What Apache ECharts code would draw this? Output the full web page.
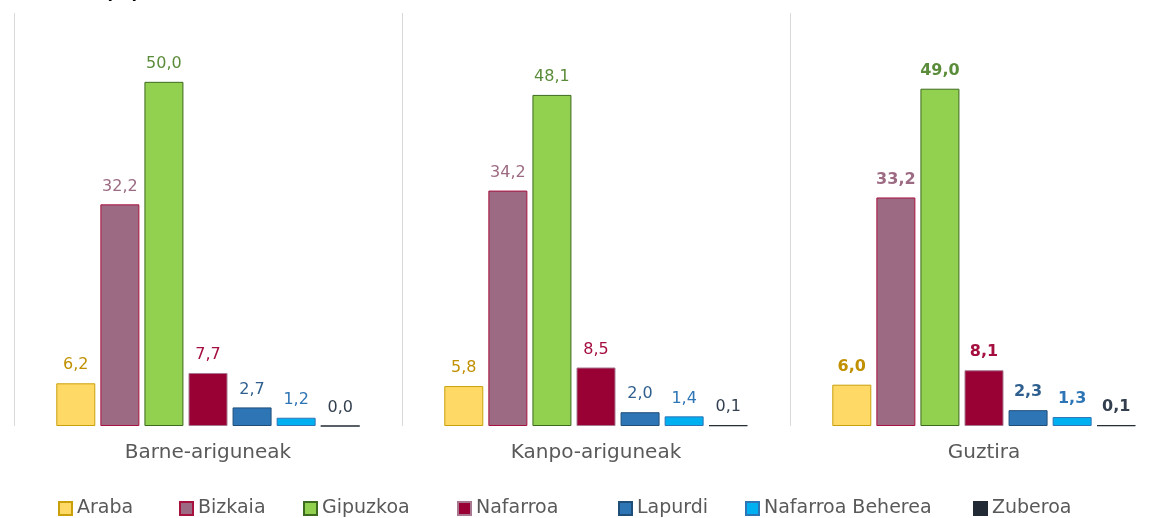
<!DOCTYPE html>
<html>
<head>
<meta charset="utf-8">
<script src="https://cdn.jsdelivr.net/npm/echarts@6/dist/echarts.min.js"></script>
<style>
  html, body { margin: 0; padding: 0; background: #fff; }
  #chart { width: 1164px; height: 518px; }
</style>
</head>
<body>
<div id="chart"></div>
<script>
var categories = ['Barne-ariguneak', 'Kanpo-ariguneak', 'Guztira'];
var araba = [6.2, 5.8, 6.0];
var bizkaia = [32.2, 34.2, 33.2];
var gipuzkoa = [50.0, 48.1, 49.0];
var nafarroa = [7.7, 8.5, 8.1];
var lapurdi = [2.7, 2.0, 2.3];
var nafarroaBeherea = [1.2, 1.4, 1.3];
var zuberoa = [0.0, 0.1, 0.1];

var fontFamily = '"DejaVu Sans", Verdana, sans-serif';

// name, values, fill, border, label colour, legend x
var regions = [
  ['Araba', araba, '#ffd966', '#c9a00a', '#c09000', 58],
  ['Bizkaia', bizkaia, '#9c6a82', '#a8123f', '#9c6a82', 179],
  ['Gipuzkoa', gipuzkoa, '#92d050', '#3d6b1f', '#5b8c3a', 303],
  ['Nafarroa', nafarroa, '#990033', '#a87891', '#a50f3f', 457],
  ['Lapurdi', lapurdi, '#2e75b6', '#1f4e79', '#2e5f8f', 618],
  ['Nafarroa Beherea', nafarroaBeherea, '#00b0f0', '#2e75b6', '#2e75b6', 745],
  ['Zuberoa', zuberoa, '#222a35', '#222a35', '#333f4f', 973]
];

function fmt(v) {
  return v.toFixed(1).replace('.', ',');
}

var series = regions.map(function (r) {
  return {
    name: r[0],
    type: 'bar',
    barWidth: 39,
    barGap: '13%',
    itemStyle: { color: r[2], borderColor: r[3], borderWidth: 1 },
    label: {
      show: true,
      position: 'top',
      distance: 10,
      color: r[4],
      fontSize: 16,
      fontFamily: fontFamily,
      formatter: function (p) { return fmt(p.value); }
    },
    data: r[1].map(function (v, i) {
      // last group (Guztira) has bold labels
      return i === 2 ? { value: v, label: { fontWeight: 'bold' } } : v;
    })
  };
});

// one legend per item so they sit where the original puts them
var legends = regions.map(function (r) {
  return {
    data: [r[0]],
    left: r[5] - 5,
    top: 494,
    itemWidth: 13,
    itemHeight: 13,
    icon: 'rect',
    textStyle: { fontSize: 19, color: '#595959', fontFamily: fontFamily }
  };
});

var chart = echarts.init(document.getElementById('chart'));
chart.setOption({
  animation: false,
  backgroundColor: '#fff',
  title: {
    text: '(%)',
    left: 100,
    top: -20,
    textStyle: { fontSize: 18, fontWeight: 'bold', color: '#000', fontFamily: fontFamily }
  },
  // the third panel runs past the right edge of the picture
  grid: { left: 14, right: -14, top: 13, bottom: 92, outerBoundsMode: 'none' },
  legend: legends,
  xAxis: {
    type: 'category',
    data: categories,
    axisLine: { show: false },
    axisTick: { show: false },
    splitLine: { show: true, lineStyle: { color: '#d9d9d9', width: 1 } },
    axisLabel: { fontSize: 20, color: '#595959', margin: 17, fontFamily: fontFamily }
  },
  yAxis: {
    type: 'value',
    min: 0,
    max: 60,
    show: false,
    splitLine: { show: false }
  },
  series: series
});
</script>
</body>
</html>
